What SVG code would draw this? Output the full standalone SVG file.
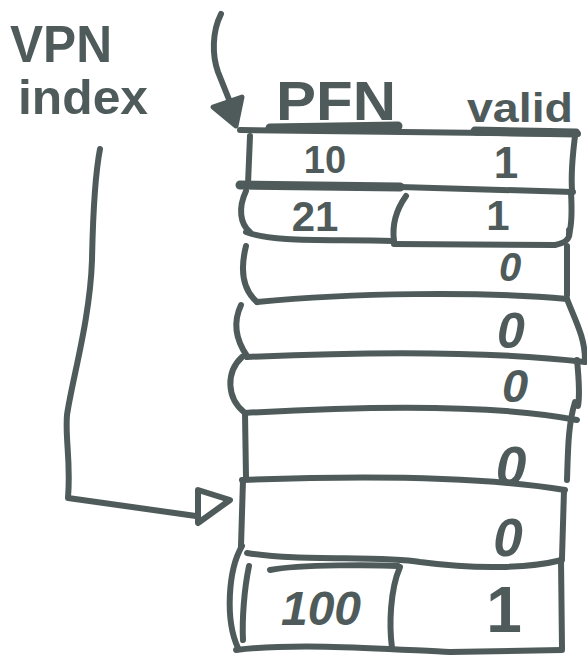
<svg xmlns="http://www.w3.org/2000/svg" width="587" height="661" viewBox="0 0 587 661">
  <style>
    .ink { fill: none; stroke: #4f5b5b; stroke-width: 6; stroke-linecap: round; stroke-linejoin: round; }
    .heavy { stroke-width: 9; }
    .hand { fill: #4f5b5b; font-family: "Liberation Sans", "DejaVu Sans", sans-serif; font-weight: bold; }
    .cell { text-anchor: middle; }
    .zero { text-anchor: middle; font-style: italic; }
  </style>
  <rect width="587" height="661" fill="#ffffff"/>

  <!-- labels -->
  <g id="vpn-index">
    <text class="hand" x="10" y="62" font-size="52" textLength="102" lengthAdjust="spacingAndGlyphs">VPN</text>
    <text class="hand" x="18" y="114" font-size="48" textLength="130" lengthAdjust="spacingAndGlyphs">index</text>
  </g>
  <g id="pfn-header">
    <text class="hand" x="276" y="120" font-size="55" textLength="120" lengthAdjust="spacingAndGlyphs">PFN</text>
  </g>
  <g id="valid-header">
    <text class="hand" x="467" y="122" font-size="40" textLength="106" lengthAdjust="spacingAndGlyphs">valid</text>
  </g>

  <!-- page table rows -->
  <g id="table-top">
    <path class="ink" d="M240,130 L578,134"/>
    <path class="ink heavy" d="M270,128 L398,126"/>
    <path class="ink heavy" d="M475,131 L576,133"/>
  </g>
  <g id="row-1">
    <path class="ink" d="M250,136 L248,184"/>
    <path class="ink" d="M575,136 C572,160 571,175 572,190"/>
    <path class="ink heavy" d="M240,185 L400,187"/>
    <path class="ink" d="M400,187 L573,192"/>
    <text class="hand cell" x="325" y="173" font-size="38">10</text>
    <text class="hand cell" x="506" y="178" font-size="44">1</text>
  </g>
  <g id="row-2">
    <path class="ink" d="M246,191 C238,208 240,224 250,232"/>
    <path class="ink" d="M246,232 C275,243 330,239 393,241"/>
    <path class="ink" d="M406,196 C396,210 392,226 394,241"/>
    <path class="ink" d="M571,192 C572,210 572,225 569,234"/>
    <path class="ink" d="M394,244 L555,245 C566,243 571,238 569,230"/>
    <text class="hand cell" x="315" y="231" font-size="42">21</text>
    <text class="hand cell" x="498" y="230" font-size="42">1</text>
  </g>
  <g id="row-3">
    <path class="ink" d="M246,246 C240,270 243,290 257,302"/>
    <path class="ink" d="M567,246 L567,295"/>
    <path class="ink" d="M257,302 C350,293 480,291 567,299"/>
    <text class="hand zero" x="510" y="281" font-size="40">0</text>
  </g>
  <g id="row-4">
    <path class="ink" d="M241,305 C233,322 236,340 247,356"/>
    <path class="ink" d="M567,299 C575,320 585,337 585,360"/>
    <path class="ink" d="M247,357 C380,351 500,352 585,362"/>
    <text class="hand zero" x="511" y="348" font-size="50">0</text>
  </g>
  <g id="row-5">
    <path class="ink" d="M242,357 C226,372 226,398 245,413"/>
    <path class="ink" d="M577,360 C579,380 580,395 578,406"/>
    <path class="ink" d="M245,413 C380,405 500,405 577,420"/>
    <text class="hand zero" x="515" y="402" font-size="47">0</text>
  </g>
  <g id="row-6">
    <path class="ink" d="M245,413 L246,478"/>
    <path class="ink" d="M575,402 C568,425 568,450 567,480"/>
    <path class="ink" d="M242,480 C350,476 480,476 565,490"/>
    <text class="hand zero" x="511" y="485" font-size="55">0</text>
  </g>
  <g id="row-7">
    <path class="ink" d="M243,480 L241,546"/>
    <path class="ink" d="M564,490 L562,558"/>
    <path class="ink" d="M247,553 C300,562 380,555 420,562 C480,570 530,568 562,560"/>
    <text class="hand zero" x="508" y="556" font-size="53">0</text>
  </g>
  <g id="row-8">
    <path class="ink" d="M242,546 C228,570 225,620 238,648"/>
    <path class="ink" d="M249,566 C244,590 242,620 243,640"/>
    <path class="ink" d="M270,570 C300,564 380,565 398,566"/>
    <path class="ink" d="M400,567 C390,590 389,625 392,648"/>
    <path class="ink" d="M561,560 L562,648"/>
    <path class="ink" d="M236,650 C300,642 400,650 450,652 L562,650"/>
    <text class="hand cell" x="321" y="625" font-size="48" font-style="italic">100</text>
    <text class="hand cell" x="504" y="632" font-size="64">1</text>
  </g>

  <!-- connectors -->
  <g id="connectors">
    <path class="ink" d="M221,14 C212,32 212,55 218,72 L230,102"/>
    <polygon points="213,107 242,97 236,126" fill="#4f5b5b" stroke="#4f5b5b" stroke-width="5" stroke-linejoin="round"/>
    <path class="ink" d="M100,149 C95,175 93,210 92,260 C90,320 72,380 67,415 C65,440 71,460 68,498 L196,516"/>
    <path class="ink" d="M198,490 L230,500 L198,523 Z"/>
  </g>
</svg>
